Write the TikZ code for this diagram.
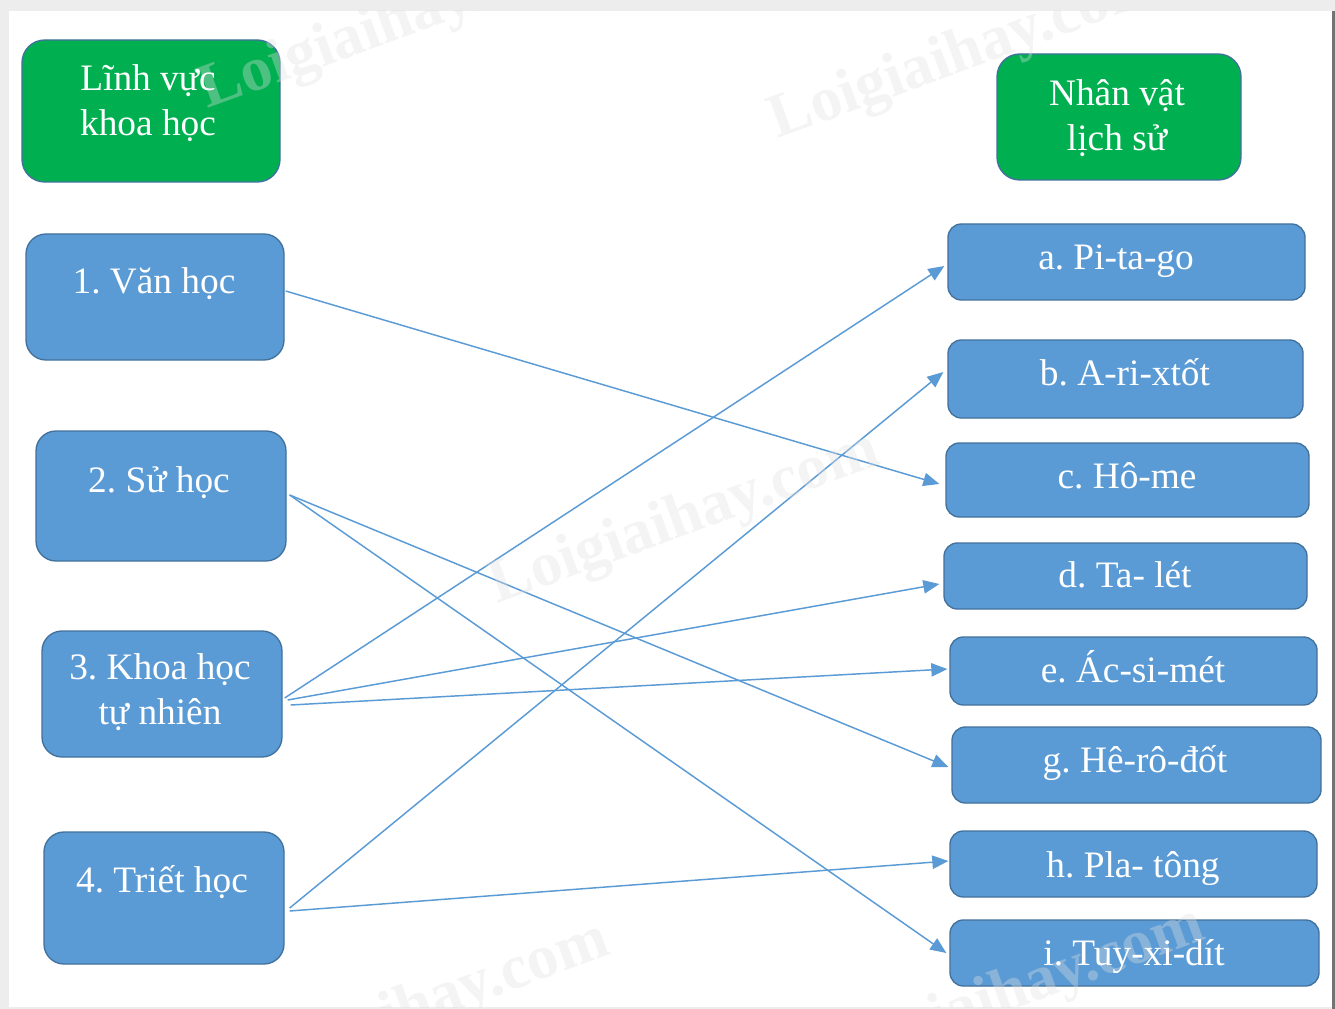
\documentclass[tikz,border=0pt]{standalone}
\usepackage{fontspec}
\setmainfont{Liberation Serif}
\frenchspacing
\usetikzlibrary{arrows.meta}
\pgfdeclarelayer{labels}
\pgfsetlayers{main,labels}
\definecolor{boxblue}{HTML}{5B9BD5}
\definecolor{boxgreen}{HTML}{00B050}
\definecolor{edgeblue}{HTML}{41719C}
\definecolor{wm}{HTML}{E0E0E0}
\tikzset{
  x=0.75pt,y=-0.75pt,
  shapebox/.style={draw=edgeblue,line width=1pt,inner sep=0pt},
  bluebox/.style={shapebox,fill=boxblue,rounded corners=15pt},
  slimbox/.style={shapebox,fill=boxblue,rounded corners=10pt},
  greenbox/.style={shapebox,fill=boxgreen,rounded corners=17pt},
  boxtext/.style={text=white,align=center,inner sep=0pt,font=\fontsize{28}{33.75}\selectfont},
  link/.style={draw=boxblue,line width=1.1pt,-{Triangle[length=12pt,width=10pt,fill=boxblue]}},
  wmtext/.style={text=wm,opacity=.35,rotate=20,inner sep=0pt,font=\bfseries\fontsize{47}{50}\selectfont}
}
% name, x1, y1, x2, y2, style, text x, text y, text
\newcommand{\pbox}[9]{%
  \node[#6,minimum width=#4*0.75pt-#2*0.75pt,minimum height=#5*0.75pt-#3*0.75pt] (#1) at ({(#2+#4)/2},{(#3+#5)/2}) {};
  \begin{pgfonlayer}{labels}\node[boxtext] (#1t) at (#7,#8) {#9};\end{pgfonlayer}
}
\begin{document}
\begin{tikzpicture}
\useasboundingbox (0,0) rectangle (1335,1009);
\fill[black!7] (0,0) rectangle (1335,1009);
\fill[white] (9,11) rectangle (1332,1007);
\fill[black!55] (1332,11) rectangle (1335,1009);

\pbox{head1}{22}{40}{280}{182}{greenbox}{148}{104}{\strut Lĩnh vực\\\strut khoa học}
\pbox{head2}{997}{54}{1241}{180}{greenbox}{1117}{119}{\strut Nhân vật\\\strut lịch sử}

\pbox{l1}{26}{234}{284}{360}{bluebox}{154}{285}{\strut 1. Văn học}
\pbox{l2}{36}{431}{286}{561}{bluebox}{159}{483}{\strut 2. Sử học}
\pbox{l3}{42}{631}{282}{757}{bluebox}{160}{693}{\strut 3. Khoa học\\\strut tự nhiên}
\pbox{l4}{44}{832}{284}{964}{bluebox}{162}{883}{\strut 4. Triết học}

\pbox{ra}{948}{224}{1305}{300}{slimbox}{1116}{261}{\strut a. Pi-ta-go}
\pbox{rb}{948}{340}{1303}{418}{slimbox}{1125}{376}{\strut b. A-ri-xtốt}
\pbox{rc}{946}{443}{1309}{517}{slimbox}{1127}{479}{\strut c. Hô-me}
\pbox{rd}{944}{543}{1307}{609}{slimbox}{1125}{578}{\strut d. Ta- lét}
\pbox{re}{950}{637}{1317}{705}{slimbox}{1133}{673}{\strut e. Ác-si-mét}
\pbox{rg}{952}{727}{1321}{803}{slimbox}{1135}{763}{\strut g. Hê-rô-đốt}
\pbox{rh}{950}{831}{1317}{897}{slimbox}{1133}{868}{\strut h. Pla- tông}
\pbox{ri}{950}{920}{1319}{986}{slimbox}{1134}{956}{\strut i. Tuy-xi-dít}

% offsets in px from the node's east / west anchors (positive = down)
\newcommand{\lnk}[6]{%
  \draw[link] ([xshift=#2*0.75pt,yshift=#3*-0.75pt]#1.east) -- ([xshift=#5*0.75pt,yshift=#6*-0.75pt]#4.west);
}
\lnk{l1}{1}{-6}{rc}{-6}{4}
\lnk{l3}{2}{4}{ra}{-3}{4}
\lnk{l4}{5}{10}{rb}{-4}{-7}
\lnk{l2}{3}{-1}{rg}{-3}{2}
\lnk{l2}{3}{-1}{ri}{-3}{0}
\lnk{l3}{5}{6}{rd}{-4}{8}
\lnk{l3}{8}{11}{re}{-2}{-2}
\lnk{l4}{5}{13}{rh}{-1}{-3}

\begin{scope}
\clip (9,11) rectangle (1332,1007);
\node[wmtext] (w1) at (965,55) {Loigiaihay.com};
\node[wmtext] (w2) at (685,520) {Loigiaihay.com};
\node[wmtext] (w3) at (415,1010) {Loigiaihay.com};
\node[wmtext] (w4) at (395,25) {Loigiaihay.com};
\node[wmtext] (w5) at (1010,995) {Loigiaihay.com};
\end{scope}
\end{tikzpicture}
\end{document}
